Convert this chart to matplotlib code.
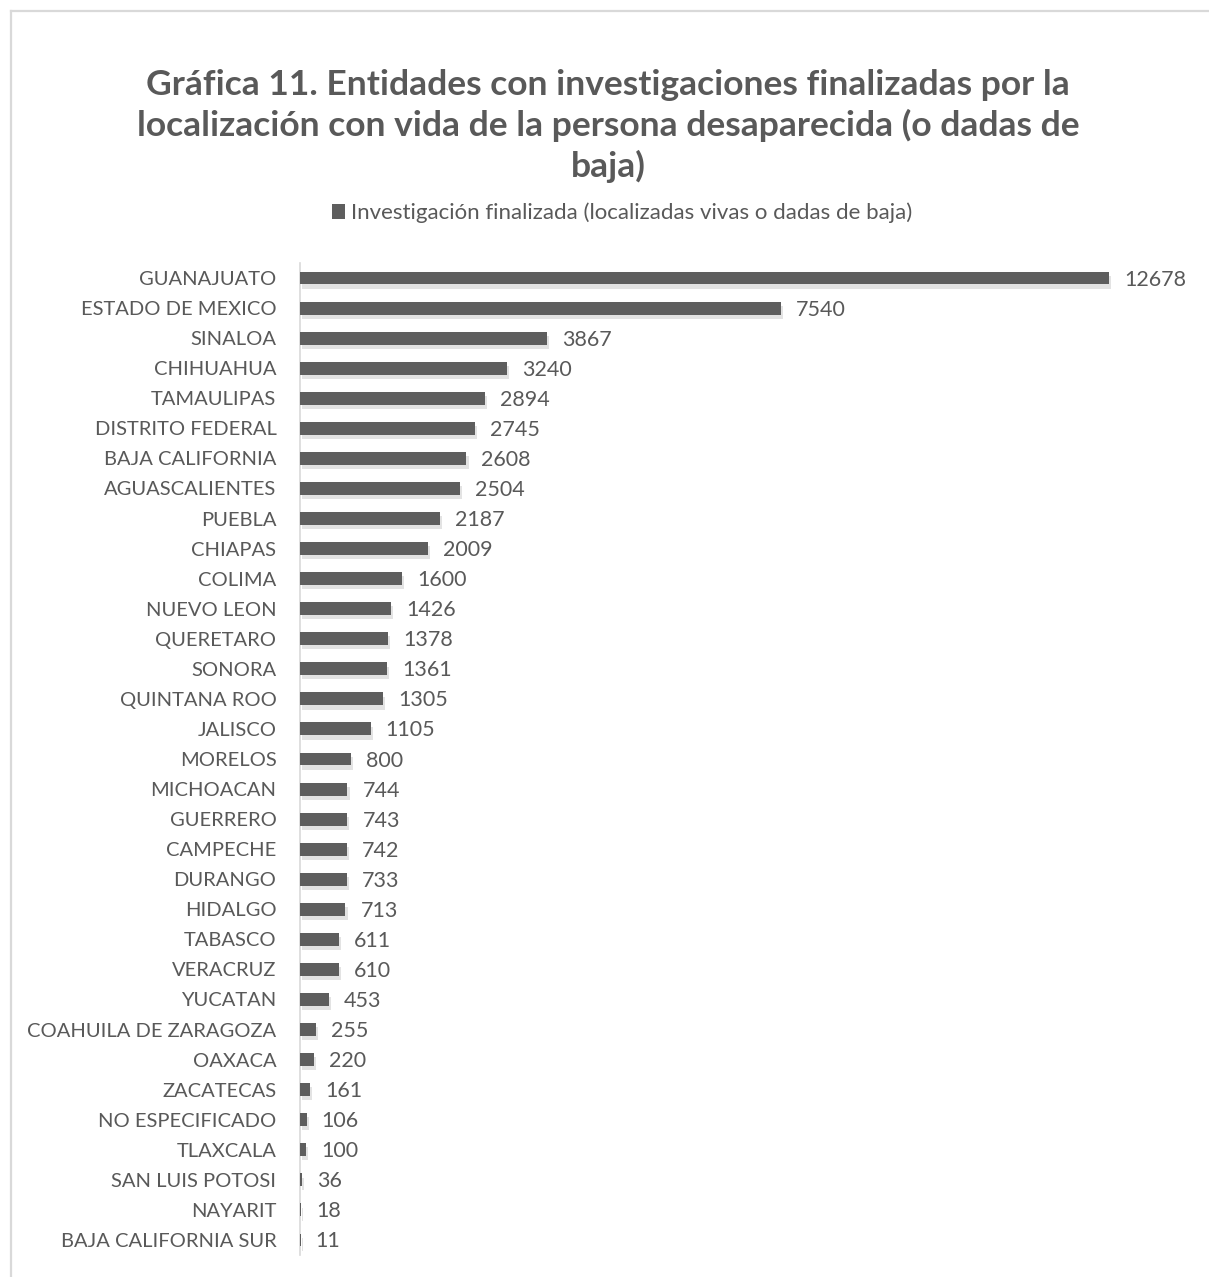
import matplotlib
matplotlib.use("Agg")
import matplotlib.pyplot as plt
import matplotlib.patheffects as pe
from matplotlib.lines import Line2D
from matplotlib.patches import Patch

# states and finished investigations (found alive or dropped)
estados = ["GUANAJUATO", "ESTADO DE MEXICO", "SINALOA", "CHIHUAHUA", "TAMAULIPAS",
           "DISTRITO FEDERAL", "BAJA CALIFORNIA", "AGUASCALIENTES", "PUEBLA", "CHIAPAS",
           "COLIMA", "NUEVO LEON", "QUERETARO", "SONORA", "QUINTANA ROO", "JALISCO",
           "MORELOS", "MICHOACAN", "GUERRERO", "CAMPECHE", "DURANGO", "HIDALGO",
           "TABASCO", "VERACRUZ", "YUCATAN", "COAHUILA DE ZARAGOZA", "OAXACA",
           "ZACATECAS", "NO ESPECIFICADO", "TLAXCALA", "SAN LUIS POTOSI", "NAYARIT",
           "BAJA CALIFORNIA SUR"]
finalizadas = [12678, 7540, 3867, 3240, 2894, 2745, 2608, 2504, 2187, 2009, 1600, 1426,
               1378, 1361, 1305, 1105, 800, 744, 743, 742, 733, 713, 611, 610, 453, 255,
               220, 161, 106, 100, 36, 18, 11]

titulo = ("Gráfica 11. Entidades con investigaciones finalizadas por la\n"
          "localización con vida de la persona desaparecida (o dadas de\nbaja)")
serie = "Investigación finalizada (localizadas vivas o dadas de baja)"

plt.rcParams["font.family"] = ["Lato", "DejaVu Sans"]
gris = "#595959"

W, H = 1209, 1277
fig = plt.figure(figsize=(W / 100, H / 100), dpi=100)

# outer chart border (top and left edges visible)
fig.add_artist(Line2D([11 / W, 11 / W], [0, 1 - 11 / H], color="#d9d9d9", lw=1.6))
fig.add_artist(Line2D([11 / W, 1], [1 - 11 / H, 1 - 11 / H], color="#d9d9d9", lw=1.6))

ax = fig.add_axes([300 / W, 1 - 1255 / H, 880 / W, (1255 - 263) / H])
y = list(range(len(estados)))
bars = ax.barh(y, finalizadas, height=0.43, color="#5e5e5e", zorder=3)
for b in bars:
    b.set_path_effects([pe.SimplePatchShadow(offset=(1.5, -3), shadow_rgbFace="#b0b0b0",
                                              alpha=0.35), pe.Normal()])

escala = 12678 / 809.0
for yi, v in zip(y, finalizadas):
    ax.text(v + 15 * escala, yi + 0.05, str(v), va="center", ha="left", fontsize=15.5,
            color=gris)

ax.set_xlim(0, 880 * escala)
ax.set_ylim(len(estados) - 0.5, -0.5)
ax.set_yticks(y)
ax.set_yticklabels(estados, fontsize=14.5, color=gris)
ax.tick_params(axis="y", length=0, pad=17)
ax.set_xticks([])
for s in ["top", "right", "bottom"]:
    ax.spines[s].set_visible(False)
ax.spines["left"].set_color("#d9d9d9")
ax.spines["left"].set_linewidth(1.2)

fig.text(608 / W, 1 - 126 / H, titulo, ha="center", va="center", fontsize=25.5,
         fontweight="bold", color=gris, linespacing=1.3)

fig.legend(handles=[Patch(facecolor="#5e5e5e", edgecolor="none", label=serie)],
           loc="center", bbox_to_anchor=(622 / W, 1 - 213 / H), frameon=False,
           fontsize=16, labelcolor=gris, handlelength=0.6, handleheight=0.6,
           handletextpad=0.25)

fig.savefig("out.png", dpi=100)
